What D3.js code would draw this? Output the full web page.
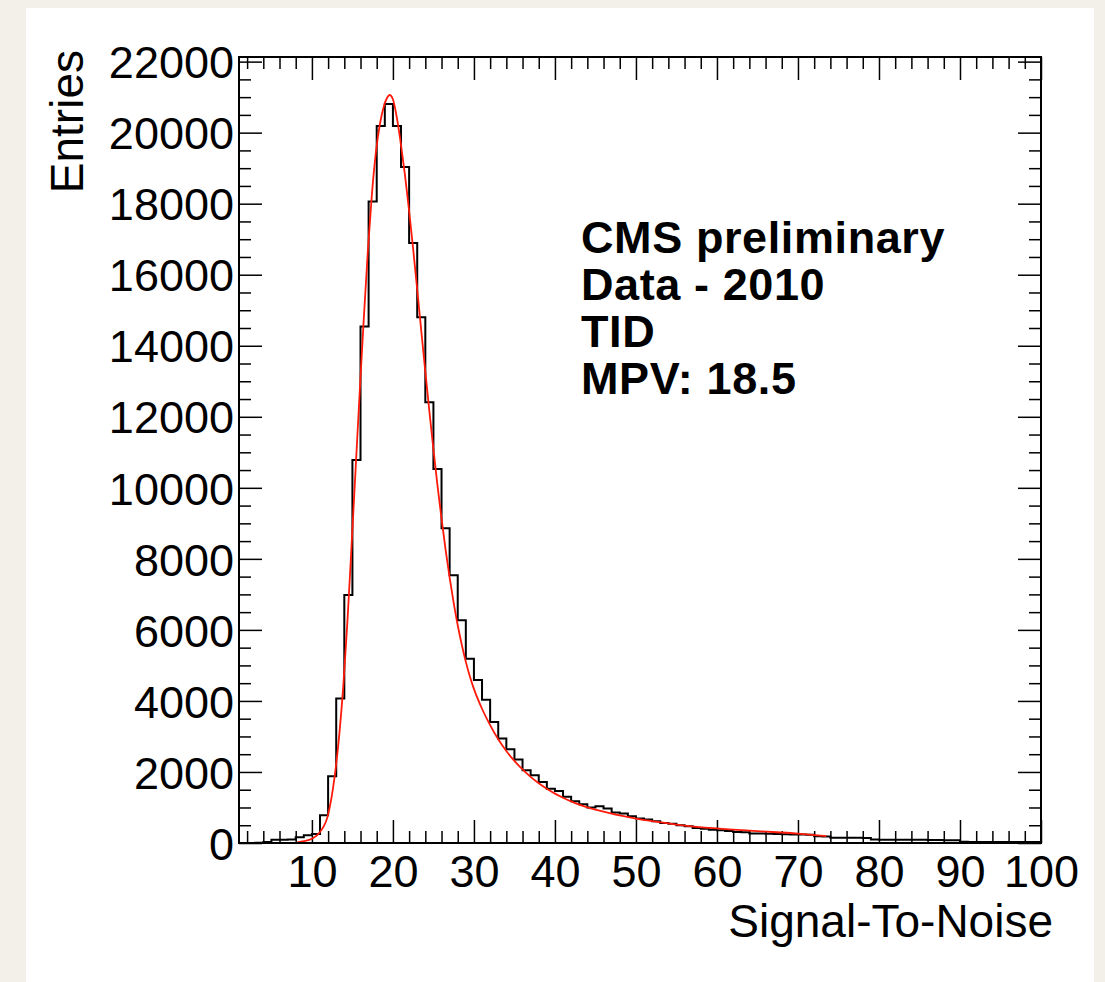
<!DOCTYPE html>
<html>
<head>
<meta charset="utf-8">
<script src="https://cdn.jsdelivr.net/npm/d3@7"></script>
<style>
  html, body { margin: 0; padding: 0; background: #f3f0ea; }
  svg { display: block; }
</style>
</head>
<body>
<div id="chart"></div>
<script>
// histogram: bins of width 1 starting at binLow
const binLow = 1
const entries = [
  0, 0, 10, 30, 95, 95, 100, 165, 215, 250,
  780, 1880, 4070, 6980, 10780, 14540, 18060, 20190, 20810, 20190,
  19030, 16890, 14800, 12410, 10530, 8860, 7540, 6270, 5190, 4590,
  4030, 3410, 2940, 2640, 2350, 2050, 1910, 1720, 1530, 1465,
  1300, 1175, 1090, 1000, 1035, 970, 860, 830, 750, 690,
  660, 610, 565, 545, 500, 470, 425, 400, 375, 360,
  340, 310, 305, 265, 265, 260, 250, 245, 240, 240,
  235, 190, 185, 150, 150, 145, 145, 140, 100, 95,
  95, 95, 90, 90, 90, 85, 85, 80, 80, 35,
  30, 30, 30, 30, 30, 28, 28, 28, 28
]

// fitted curve
const fitX = [8.2, 9, 10, 11, 12, 12.8, 13.4, 13.9, 14.4, 14.9, 15.4, 15.9, 16.4, 16.9, 17.4, 17.9,
  18.4, 18.9, 19.3, 19.6, 20.0, 20.5, 21.0, 21.5, 22.0, 22.5, 23.0, 23.5, 24.0, 24.5, 25.0, 25.5,
  26.0, 26.5, 27.0, 27.5, 28.0, 28.5, 29.0, 29.5, 30, 31, 32, 33, 34, 35, 36, 37, 38, 39, 40,
  41, 42, 43, 44, 45, 46, 47, 48, 50, 52, 55, 60, 65, 70, 73.5]
const fitY = [20, 50, 120, 310, 800, 1860, 3100, 4500, 6300, 8400, 10550, 12700, 14750, 16650, 18250, 19450,
  20250, 20760, 20990, 21060, 20940, 20400, 19650, 18780, 17800, 16720, 15580, 14420, 13270, 12150, 11080, 10070,
  9130, 8260, 7470, 6760, 6130, 5580, 5100, 4690, 4340, 3780, 3320, 2920, 2590, 2310, 2070, 1860, 1680, 1525, 1390,
  1275, 1170, 1080, 1005, 940, 880, 825, 775, 688, 615, 520, 410, 335, 265, 195]

const xDomain = [1, 100]
const yDomain = [0, 22130]
const xMajor = [10, 20, 30, 40, 50, 60, 70, 80, 90, 100]
const xMinor = d3.range(2, 100, 2).filter(v => v % 10 !== 0)
const yMajor = d3.range(0, 22001, 2000)
const yMinor = d3.range(500, 22130, 500).filter(v => v % 2000 !== 0)
const infoLines = ['CMS preliminary', 'Data - 2010', 'TID', 'MPV: 18.5']

const W = 1105
const H = 982
const plot = { left: 239, right: 1041, top: 57, bottom: 843 }
const font = '"Liberation Sans", Arial, Helvetica, sans-serif'

const svg = d3.select('#chart').append('svg')
  .attr('width', W)
  .attr('height', H)

// background card
svg.append('rect').attr('width', W).attr('height', H).attr('fill', '#f3f0ea')
svg.append('rect')
  .attr('x', 26).attr('y', 8)
  .attr('width', 1094 - 26).attr('height', H - 8)
  .attr('fill', '#ffffff')

const x = d3.scaleLinear().domain(xDomain).range([plot.left, plot.right])
const y = d3.scaleLinear().domain(yDomain).range([plot.bottom, plot.top])

// axes: ticks drawn inward on all four sides (ROOT style)
function styleAxis(g) {
  g.select('.domain').remove()
  g.selectAll('.tick line').attr('stroke', '#000').attr('stroke-width', 1.5)
  g.selectAll('.tick text')
    .attr('fill', '#000')
    .attr('font-family', font)
    .attr('font-size', 45)
}

const blank = () => ''

svg.append('g')
  .attr('transform', `translate(0,${plot.bottom})`)
  .call(d3.axisBottom(x).tickValues(xMinor).tickFormat(blank).tickSizeInner(-12).tickSizeOuter(0))
  .call(styleAxis)
svg.append('g')
  .attr('transform', `translate(0,${plot.bottom})`)
  .call(d3.axisBottom(x).tickValues(xMajor).tickFormat(d3.format('d')).tickSizeInner(-23).tickSizeOuter(0).tickPadding(12))
  .call(styleAxis)
svg.append('g')
  .attr('transform', `translate(0,${plot.top})`)
  .call(d3.axisTop(x).tickValues(xMinor).tickFormat(blank).tickSizeInner(-12).tickSizeOuter(0))
  .call(styleAxis)
svg.append('g')
  .attr('transform', `translate(0,${plot.top})`)
  .call(d3.axisTop(x).tickValues(xMajor).tickFormat(blank).tickSizeInner(-23).tickSizeOuter(0))
  .call(styleAxis)

svg.append('g')
  .attr('transform', `translate(${plot.left},0)`)
  .call(d3.axisLeft(y).tickValues(yMinor).tickFormat(blank).tickSizeInner(-12).tickSizeOuter(0))
  .call(styleAxis)
svg.append('g')
  .attr('transform', `translate(${plot.left},0)`)
  .call(d3.axisLeft(y).tickValues(yMajor).tickFormat(d3.format('d')).tickSizeInner(-23).tickSizeOuter(0).tickPadding(5))
  .call(styleAxis)
  .call(g => g.selectAll('.tick text').attr('dy', '0.36em'))
svg.append('g')
  .attr('transform', `translate(${plot.right},0)`)
  .call(d3.axisRight(y).tickValues(yMinor).tickFormat(blank).tickSizeInner(-12).tickSizeOuter(0))
  .call(styleAxis)
svg.append('g')
  .attr('transform', `translate(${plot.right},0)`)
  .call(d3.axisRight(y).tickValues(yMajor).tickFormat(blank).tickSizeInner(-23).tickSizeOuter(0))
  .call(styleAxis)

// histogram outline
const histPts = [[binLow, 0]]
entries.forEach((v, i) => histPts.push([binLow + i, v]))
histPts.push([binLow + entries.length, entries[entries.length - 1]])
histPts.push([binLow + entries.length, 0])

const stepLine = d3.line()
  .x(d => x(d[0]))
  .y(d => y(d[1]))
  .curve(d3.curveStepAfter)

svg.append('path')
  .datum(histPts)
  .attr('fill', 'none')
  .attr('stroke', '#000')
  .attr('stroke-width', 2)
  .attr('d', stepLine)

// fit curve
const fitLine = d3.line()
  .x((d, i) => x(fitX[i]))
  .y(d => y(d))
  .curve(d3.curveMonotoneX)

svg.append('path')
  .datum(fitY)
  .attr('fill', 'none')
  .attr('stroke', '#ff1a0a')
  .attr('stroke-width', 1.8)
  .attr('d', fitLine)

// frame
svg.append('rect')
  .attr('x', plot.left).attr('y', plot.top)
  .attr('width', plot.right - plot.left)
  .attr('height', plot.bottom - plot.top)
  .attr('fill', 'none')
  .attr('stroke', '#000')
  .attr('stroke-width', 2)

// axis titles
svg.append('text')
  .attr('x', 1053).attr('y', 937)
  .attr('text-anchor', 'end')
  .attr('font-family', font)
  .attr('font-size', 46)
  .text('Signal-To-Noise')

svg.append('text')
  .attr('transform', 'translate(83,50) rotate(-90)')
  .attr('text-anchor', 'end')
  .attr('font-family', font)
  .attr('font-size', 46)
  .text('Entries')

// info box
svg.append('g')
  .selectAll('text')
  .data(infoLines)
  .join('text')
  .attr('x', 581)
  .attr('y', (d, i) => 253 + i * 47)
  .attr('font-family', font)
  .attr('font-size', 45)
  .attr('font-weight', 'bold')
  .attr('letter-spacing', 0.6)
  .text(d => d)
</script>
</body>
</html>
